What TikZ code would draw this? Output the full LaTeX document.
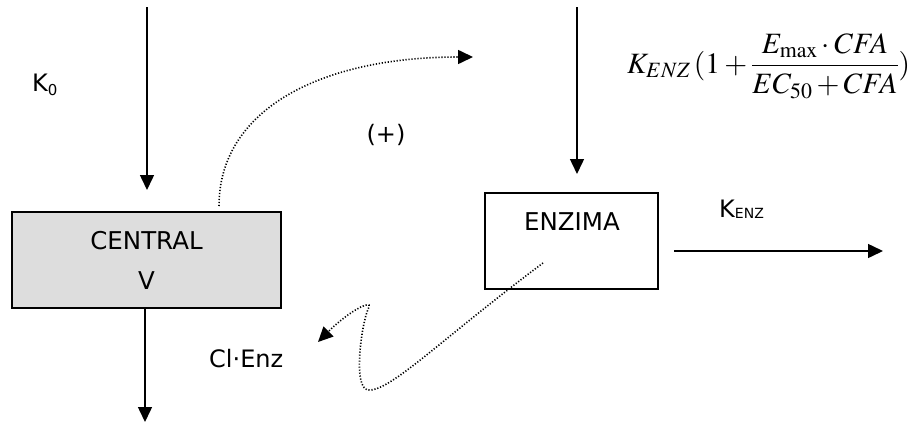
\documentclass[tikz,border=0pt]{standalone}
\usepackage{mathptmx}
\usepackage[no-math]{fontspec}
\setmainfont{DejaVu Sans}
\usetikzlibrary{arrows.meta}
\definecolor{boxgray}{HTML}{DDDDDD}
\tikzset{
  lab/.style={inner sep=0pt, font=\fontsize{24}{28}\selectfont},
  conn/.style={line width=1.5pt, -{Triangle[length=15pt,width=14pt]}},
  dotconn/.style={line width=1.6pt, dash pattern=on 1.2pt off 1.8pt, -{Triangle[length=15pt,width=14pt]}},
  compbox/.style={draw, line width=1.5pt, rectangle, inner sep=0pt},
}
\newcommand{\smallsub}[2]{{\fontsize{#1}{#1}\selectfont #2}}
\begin{document}
\begin{tikzpicture}[x=1pt,y=1pt]
\useasboundingbox (0,0) rectangle (915,-423);
% compartments
\node[compbox, fill=boxgray, minimum width=269pt, minimum height=96pt,
      align=center, font=\fontsize{24.5}{40}\selectfont] (central) at (146.5,-260) {CENTRAL\\V};
\node[compbox, minimum width=173pt, minimum height=96pt] (enzima) at (571.5,-241) {};
\node[lab, font=\fontsize{24.5}{28}\selectfont] (enzimatxt) at (572,-221.5) {ENZIMA};
% coordinates
\coordinate (k0top) at (147,-7);
\coordinate (k0tip) at (147,-190);
\coordinate (elimtip) at (145,-422);
\coordinate (entop) at (577,-7);
\coordinate (entip) at (577,-174);
\coordinate (outstart) at (674,-251);
\coordinate (outtip) at (883,-251);
\coordinate (cs) at (219,-206);
\coordinate (ct) at (473,-57);
\coordinate (es) at (543,-263);
\coordinate (cle) at (318,-342);
% arrows
\draw[conn] (k0top) -- (k0tip);
\draw[conn] (central.south -| elimtip) -- (elimtip);
\draw[conn] (entop) -- (entip);
\draw[conn] (outstart) -- (outtip);
\draw[dotconn] (cs) .. controls (219,-110) and (320,-57) .. (ct);
\draw[dotconn] (es) .. controls (440,-340) and (390,-392) .. (368,-390)
   .. controls (352,-388) and (362,-320) .. (369,-307)
   .. controls (372,-300) and (350,-310) .. (cle);
% labels
\node[lab, anchor=base west] (k0) at (32,-91) {K\raisebox{-4pt}{\smallsub{15}{0}}};
\node[lab, anchor=base west] (kenz) at (719,-217) {K\raisebox{-1pt}{\smallsub{14}{ENZ}}};
\node[lab] (plus) at (386,-135) {(+)};
\node[lab, anchor=base west] (clenz) at (209,-367) {Cl·Enz};
\node[inner sep=0pt, anchor=west] (formula) at (627,-66)
  {\fontsize{29.5}{34}\selectfont$\displaystyle K_{ENZ}\,(1+\frac{E_{\max}\cdot CFA}{EC_{50}+CFA})$};
\end{tikzpicture}
\end{document}
